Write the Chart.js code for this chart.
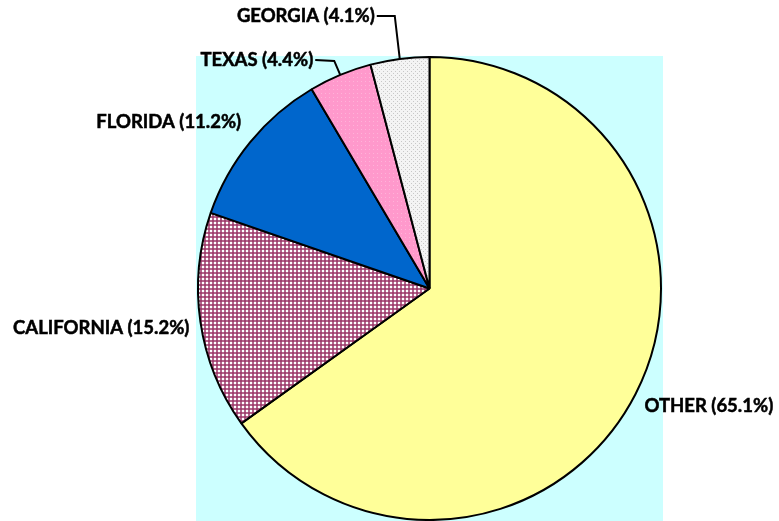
<!DOCTYPE html>
<html>
<head>
<meta charset="utf-8">
<script src="https://cdn.jsdelivr.net/npm/chart.js@4"></script>
<style>
  html, body { margin: 0; padding: 0; background: #fff; }
  #wrap { width: 779px; height: 521px; }
</style>
</head>
<body>
<div id="wrap"><canvas id="canvas" width="779" height="521"></canvas></div>
<script>
const labels = ['OTHER', 'CALIFORNIA', 'FLORIDA', 'TEXAS', 'GEORGIA']
const shares = [65.1, 15.2, 11.2, 4.4, 4.1]

// pattern tiles
function tile(size, draw) {
  const c = document.createElement('canvas')
  c.width = size
  c.height = size
  const g = c.getContext('2d')
  draw(g)
  return document.getElementById('canvas').getContext('2d').createPattern(c, 'repeat')
}

const plaid = tile(4, g => {
  g.fillStyle = '#ffffff'
  g.fillRect(0, 0, 4, 4)
  g.fillStyle = 'rgba(153,51,102,0.75)'
  g.fillRect(0, 0, 4, 2)
  g.fillRect(0, 0, 2, 4)
})
const pinkDots = tile(4, g => {
  g.fillStyle = '#ff99cc'
  g.fillRect(0, 0, 4, 4)
  g.fillStyle = '#ffb3d9'
  g.fillRect(1, 1, 1, 1)
})
const greyDots = tile(4, g => {
  g.fillStyle = '#f4f4f4'
  g.fillRect(0, 0, 4, 4)
  g.fillStyle = '#c8c8c8'
  g.fillRect(1, 1, 1, 1)
  g.fillRect(3, 3, 1, 1)
})

const colors = ['#ffff99', plaid, '#0066cc', pinkDots, greyDots]

// label offsets from the arc's outer edge (mid angle); leader = elbow offset
const labelStyle = [
  { dx: 9, dy: 12, align: 'left' },
  { dx: -11, dy: 6, align: 'right' },
  { dx: -9, dy: -20, align: 'right' },
  { dx: -27, dy: -15, align: 'right', leader: [-6, -14] },
  { dx: -25, dy: -43, align: 'right', leader: [-5, -43] },
]

const plotBg = {
  id: 'plotBg',
  beforeDraw(chart) {
    const a = chart.chartArea
    const ctx = chart.ctx
    ctx.save()
    ctx.fillStyle = '#ccffff'
    ctx.fillRect(a.left, a.top, a.right - a.left, a.bottom - a.top)
    ctx.restore()
  }
}

const sliceLabels = {
  id: 'sliceLabels',
  afterDraw(chart) {
    const ctx = chart.ctx
    const meta = chart.getDatasetMeta(0)
    ctx.save()
    ctx.font = 'bold 18.5px Lato, "Open Sans", sans-serif'
    ctx.fillStyle = '#000'
    ctx.strokeStyle = '#000'
    ctx.lineWidth = 2
    ctx.textBaseline = 'middle'
    meta.data.forEach((arc, i) => {
      const mid = (arc.startAngle + arc.endAngle) / 2
      const ex = arc.x + Math.cos(mid) * arc.outerRadius
      const ey = arc.y + Math.sin(mid) * arc.outerRadius
      const s = labelStyle[i]
      const tx = ex + s.dx
      const ty = ey + s.dy
      if (s.leader) {
        ctx.lineWidth = 2
        ctx.beginPath()
        ctx.moveTo(ex, ey)
        ctx.lineTo(ex + s.leader[0], ey + s.leader[1])
        ctx.lineTo(tx + 2, ty)
        ctx.stroke()
      }
      const text = labels[i] + ' (' + shares[i].toFixed(1) + '%)'
      ctx.textAlign = s.align
      ctx.lineWidth = 0.5
      ctx.strokeText(text, tx, ty)
      ctx.fillText(text, tx, ty)
    })
    ctx.restore()
  }
}

const data = {
  labels: labels,
  datasets: [
    {
      data: shares,
      backgroundColor: colors,
      borderColor: '#000',
      borderWidth: 2,
      hoverOffset: 0,
    },
  ],
}

const config = {
  type: 'pie',
  data: data,
  options: {
    responsive: false,
    animation: false,
    layout: { padding: { left: 196, right: 116, top: 56, bottom: 0 } },
    plugins: {
      legend: { display: false },
      tooltip: { enabled: false },
    },
  },
  plugins: [plotBg, sliceLabels],
}

const canvas = document.getElementById('canvas')
const chart = new Chart(canvas, config)
</script>
</body>
</html>
